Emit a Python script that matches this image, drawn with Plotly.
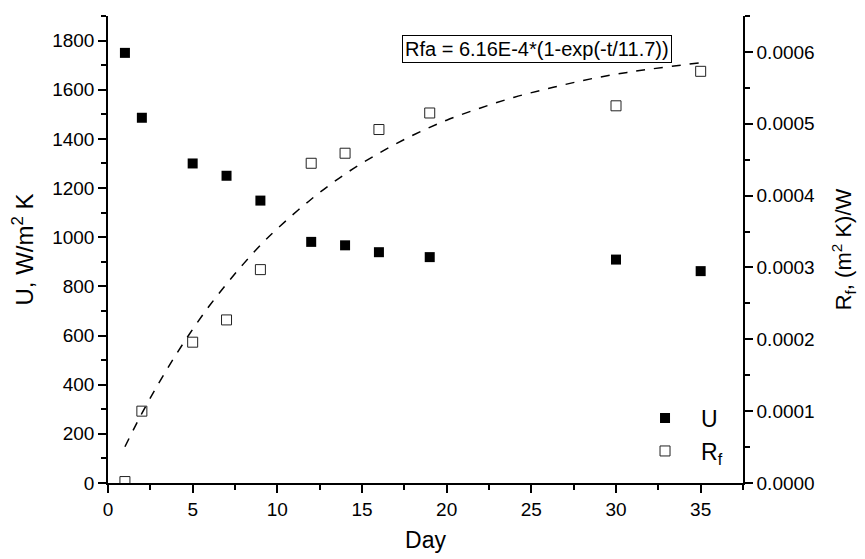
import plotly.graph_objects as go

# ---- data ----
days = [1, 2, 5, 7, 9, 12, 14, 16, 19, 30, 35]
u_values = [1750, 1486, 1300, 1250, 1149, 981, 967, 939, 919, 909, 862]
rf_values = [0.000002, 0.0001, 0.000196, 0.000227, 0.000297, 0.000445,
             0.000459, 0.000492, 0.000515, 0.000525, 0.000573]

# fitted curve (Rfa) as traced on the picture
fit_days = [1, 2, 3, 4, 5, 6, 7, 8, 9, 10, 12, 14, 16, 18, 20, 22, 24, 26, 28, 30, 32, 35]
fit_rf = [0.0000505, 0.0000968, 0.000139, 0.000178, 0.000214, 0.000247, 0.000277,
          0.000305, 0.000331, 0.000354, 0.000395, 0.000430, 0.000459, 0.000484,
          0.000505, 0.000522, 0.000537, 0.000549, 0.000560, 0.000569, 0.000576, 0.000585]

x_ticks = [0, 5, 10, 15, 20, 25, 30, 35]
u_ticks = [0, 200, 400, 600, 800, 1000, 1200, 1400, 1600, 1800]
rf_ticks = [0.0, 0.0001, 0.0002, 0.0003, 0.0004, 0.0005, 0.0006]

FONT = "Arial, Liberation Sans, sans-serif"

fig = go.Figure()
fig.add_trace(go.Scatter(
    x=fit_days, y=fit_rf, mode="lines", yaxis="y2", showlegend=False,
    line=dict(color="black", width=1.5, dash="dash", shape="spline"),
    hoverinfo="skip"))
fig.add_trace(go.Scatter(
    x=days, y=u_values, mode="markers", name="U",
    marker=dict(symbol="square", size=10, color="black")))
fig.add_trace(go.Scatter(
    x=days, y=rf_values, mode="markers", name="R<sub>f</sub>", yaxis="y2",
    marker=dict(symbol="square-open", size=10, color="#222",
                line=dict(width=1, color="#222"))))

axis_common = dict(showline=True, linecolor="black", linewidth=1.5, showgrid=False,
                   zeroline=False, tickcolor="black", tickwidth=1.5,
                   tickfont=dict(family=FONT, size=19, color="black"))

fig.update_layout(
    width=857, height=551, autosize=False,
    margin=dict(l=100, r=122, t=8, b=76),
    plot_bgcolor="white", paper_bgcolor="white",
    font=dict(family=FONT, color="black"),
    xaxis=dict(range=[0, 37.5], tickvals=x_ticks, ticks="outside", ticklen=8,
               minor=dict(dtick=2.5, tick0=0, ticks="outside", ticklen=5,
                          tickcolor="black", tickwidth=1.5),
               title=dict(text="Day", font=dict(family=FONT, size=23), standoff=13),
               **axis_common),
    xaxis2=dict(range=[0, 37.5], overlaying="x", side="top", matches="x",
                tickvals=x_ticks, ticks="inside", ticklen=8, showticklabels=False,
                minor=dict(dtick=2.5, tick0=0, ticks="inside", ticklen=5,
                           tickcolor="black", tickwidth=1.5),
                **axis_common),
    yaxis=dict(range=[0, 1900], tickvals=u_ticks, ticks="outside", ticklen=8,
               minor=dict(dtick=100, tick0=0, ticks="outside", ticklen=5,
                          tickcolor="black", tickwidth=1.5),
               title=dict(text="U, W/m<sup>2</sup> K", font=dict(family=FONT, size=24),
                          standoff=18),
               **axis_common),
    yaxis2=dict(range=[0, 0.00065], overlaying="y", side="right", tickvals=rf_ticks,
                tickformat=".4f", ticks="outside", ticklen=8,
                minor=dict(dtick=0.00005, tick0=0, ticks="outside", ticklen=5,
                           tickcolor="black", tickwidth=1.5),
                title=dict(text="R<sub>f</sub>, (m<sup>2</sup> K)/W",
                           font=dict(family=FONT, size=22), standoff=22),
                **axis_common),
    legend=dict(x=0.8205, y=0.185, xanchor="left", yanchor="top",
                bgcolor="rgba(0,0,0,0)", font=dict(family=FONT, size=23),
                itemwidth=62, tracegroupgap=0),
    annotations=[dict(
        text="Rfa = 6.16E-4*(1-exp(-t/11.7))", xref="paper", yref="paper",
        x=0.675, y=0.93, xanchor="center", yanchor="middle", showarrow=False,
        font=dict(family=FONT, size=20, color="black"),
        bordercolor="black", borderwidth=1, borderpad=2, bgcolor="white")],
)

fig.write_html("out.html")
